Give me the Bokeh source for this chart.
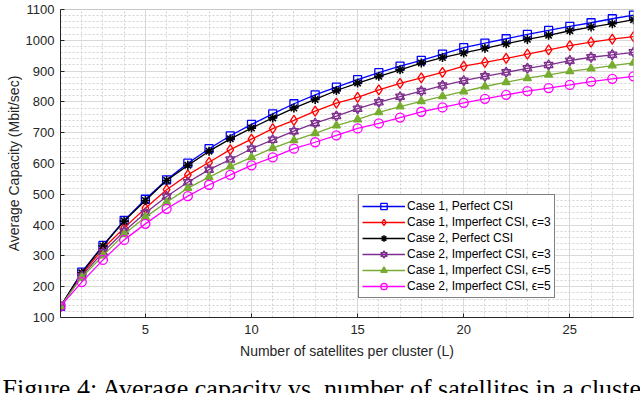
from bokeh.plotting import figure
from bokeh.models import FixedTicker, Legend, LegendItem, Title
from bokeh.embed import file_html
from bokeh.resources import INLINE

# ---- data ----
L = list(range(1, 29))
case1_perfect = [136, 247, 334, 415, 484, 547, 601, 648, 690, 727, 761, 794, 823, 848,
                 872, 895, 916, 935, 955, 976, 991, 1005, 1019, 1032, 1045, 1057, 1070, 1082]
case1_imp3 = [136, 240, 323, 391, 455, 515, 563, 604, 645, 679, 713, 740, 770, 796,
              815, 839, 860, 878, 896, 916, 928, 941, 955, 969, 983, 994, 1004, 1012]
case2_perfect = [136, 245, 332, 413, 480, 545, 594, 640, 680, 715, 748, 780, 808, 837,
                 861, 883, 904, 926, 944, 959, 974, 989, 1003, 1016, 1031, 1043, 1054, 1067]
case2_imp3 = [136, 235, 312, 380, 439, 493, 539, 580, 613, 648, 677, 705, 731, 754,
              778, 799, 817, 835, 853, 869, 883, 896, 909, 920, 934, 945, 953, 961]
case1_imp5 = [136, 230, 301, 370, 426, 474, 520, 556, 590, 620, 650, 675, 698, 723,
              743, 766, 785, 802, 818, 834, 850, 864, 877, 888, 899, 908, 918, 927]
case2_imp5 = [136, 215, 287, 352, 404, 453, 494, 531, 563, 594, 620, 648, 669, 691,
              714, 730, 749, 768, 782, 797, 810, 823, 835, 845, 855, 866, 875, 883]

x_ticks = [5, 10, 15, 20, 25]
y_ticks = list(range(100, 1101, 100))
labels = ["Case 1, Perfect CSI", "Case 1, Imperfect CSI, \u03f5=3", "Case 2, Perfect CSI",
          "Case 2, Imperfect CSI, \u03f5=3", "Case 1, Imperfect CSI, \u03f5=5",
          "Case 2, Imperfect CSI, \u03f5=5"]
caption = "Figure 4: Average capacity vs. number of satellites in a cluster"

FONT = "Liberation Sans"

p = figure(width=640, height=393, frame_width=573, frame_height=308,
           x_range=(1, 28), y_range=(100, 1100),
           output_backend="svg", toolbar_location=None,
           min_border_left=60, min_border_right=7, min_border_top=9, min_border_bottom=76)
p.background_fill_color = "white"
p.border_fill_color = "white"
p.outline_line_color = "#c8c8c8"
p.outline_line_width = 1

p.xaxis.ticker = FixedTicker(ticks=x_ticks, minor_ticks=L)
p.yaxis.ticker = FixedTicker(ticks=y_ticks, minor_ticks=list(range(100, 1101, 20)))

for ax in (p.xaxis[0], p.yaxis[0]):
    ax.axis_line_color = "#262626"
    ax.major_tick_line_color = "#262626"
    ax.major_tick_in = 4
    ax.major_tick_out = 0
    ax.minor_tick_in = 0
    ax.minor_tick_out = 0
    ax.major_label_text_font = FONT
    ax.major_label_text_font_size = "13px"
    ax.major_label_text_color = "#262626"
    ax.axis_label_text_font = FONT
    ax.axis_label_text_font_size = "14px"
    ax.axis_label_text_font_style = "normal"
    ax.axis_label_text_color = "#262626"

p.xaxis.axis_label = "Number of satellites per cluster (L)"
p.yaxis.axis_label = "Average Capacity (Mbit/sec)"
p.xaxis.major_label_standoff = 7
p.xaxis.axis_label_standoff = 6
p.yaxis.major_label_standoff = 6
p.yaxis.axis_label_standoff = 1

for g in (p.xgrid[0], p.ygrid[0]):
    g.grid_line_color = "#d9d9d9"
    g.grid_line_width = 1
    g.minor_grid_line_color = "#d2d2d2"
    g.minor_grid_line_dash = "2 2"
    g.minor_grid_line_width = 1

LW = 1.3
items = []

r1 = p.line(L, case1_perfect, line_color="#0000ff", line_width=LW)
m1 = p.scatter(L, case1_perfect, marker="square", size=8, line_color="#0000ff",
               fill_color=None, line_width=LW)
items.append(LegendItem(label=labels[0], renderers=[r1, m1]))

r2 = p.line(L, case1_imp3, line_color="#ff0000", line_width=LW)
m2 = p.scatter(L, case1_imp3, marker="diamond", size=10, line_color="#ff0000",
               fill_color=None, line_width=LW)
items.append(LegendItem(label=labels[1], renderers=[r2, m2]))

r3 = p.line(L, case2_perfect, line_color="black", line_width=LW)
m3 = p.scatter(L, case2_perfect, marker="asterisk", size=9, line_color="black",
               line_width=1.6)
items.append(LegendItem(label=labels[2], renderers=[r3, m3]))

r4 = p.line(L, case2_imp3, line_color="#7e2f8e", line_width=LW)
m4a = p.scatter(L, case2_imp3, marker="triangle", size=9, line_color="#7e2f8e",
                fill_color=None, line_width=LW)
m4b = p.scatter(L, case2_imp3, marker="inverted_triangle", size=9, line_color="#7e2f8e",
                fill_color=None, line_width=LW)
items.append(LegendItem(label=labels[3], renderers=[r4, m4a, m4b]))

r5 = p.line(L, case1_imp5, line_color="#77ac30", line_width=LW)
m5 = p.scatter(L, case1_imp5, marker="triangle", size=8, line_color="#77ac30",
               fill_color="#77ac30", line_width=LW)
items.append(LegendItem(label=labels[4], renderers=[r5, m5]))

r6 = p.line(L, case2_imp5, line_color="#ff00ff", line_width=LW)
m6 = p.scatter(L, case2_imp5, marker="circle", size=9, line_color="#ff00ff",
               fill_color=None, line_width=LW)
items.append(LegendItem(label=labels[5], renderers=[r6, m6]))

legend = Legend(items=items, location=(298, 19))
legend.border_line_color = "black"
legend.border_line_width = 1
legend.background_fill_color = "white"
legend.background_fill_alpha = 1
legend.padding = 3
legend.spacing = 0
legend.margin = 0
legend.glyph_width = 43
legend.glyph_height = 16
legend.label_height = 16
legend.label_standoff = 2
legend.label_text_font = FONT
legend.label_text_font_size = "12px"
legend.label_text_color = "black"
p.add_layout(legend)

cap = Title(text=caption, align="left", offset=-58, standoff=21,
            text_font="Liberation Serif", text_font_size="26px",
            text_font_style="normal", text_color="black")
p.add_layout(cap, "below")

open("out.html", "w").write(file_html(p, INLINE))
